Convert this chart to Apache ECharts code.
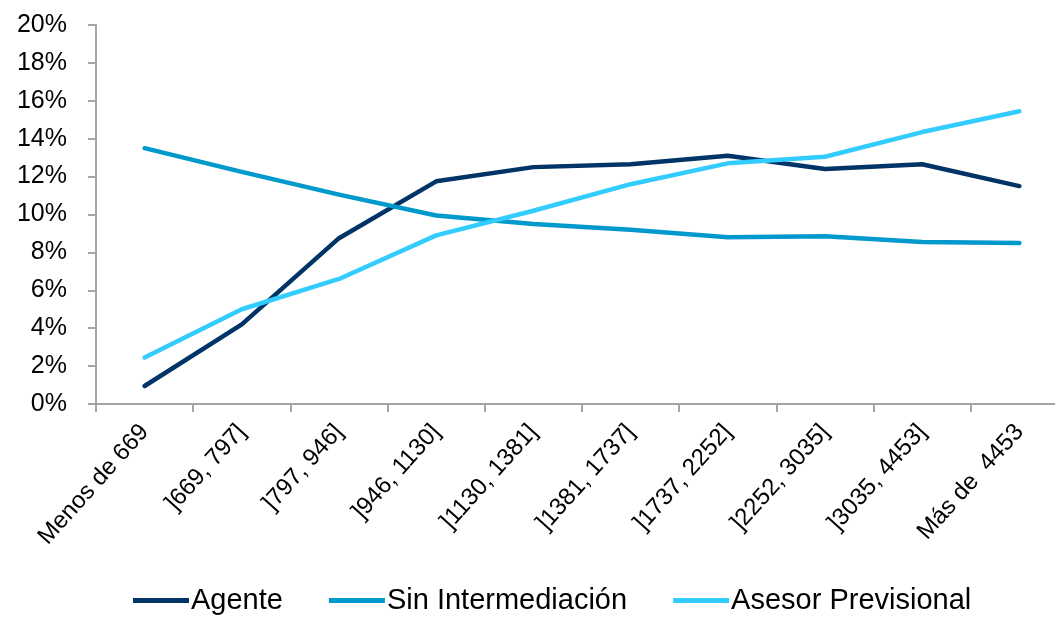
<!DOCTYPE html>
<html>
<head>
<meta charset="utf-8">
<script src="https://cdn.jsdelivr.net/npm/echarts@6/dist/echarts.min.js"></script>
<style>
  html, body { margin: 0; padding: 0; background: #fff; overflow: hidden; }
  /* the plot area runs past the right edge of the picture, as in the original */
  #chart { width: 1068px; height: 620px; }
</style>
</head>
<body>
<div id="chart"></div>
<script>
// categories (income brackets)
var categories = ['Menos de 669', ']669, 797]', ']797, 946]', ']946, 1130]', ']1130, 1381]',
                  ']1381, 1737]', ']1737, 2252]', ']2252, 3035]', ']3035, 4453]', 'Más de  4453'];

// series values, in %
var agente = [0.95, 4.2, 8.75, 11.75, 12.5, 12.65, 13.1, 12.4, 12.65, 11.5];
var sinIntermediacion = [13.5, 12.25, 11.05, 9.95, 9.5, 9.2, 8.8, 8.85, 8.55, 8.5];
var asesorPrevisional = [2.45, 5.0, 6.6, 8.9, 10.2, 11.6, 12.7, 13.05, 14.35, 15.45];

var seriesNames = ['Agente', 'Sin Intermediación', 'Asesor Previsional'];
var colors = ['#003366', '#0099CC', '#33CCFF'];

var chart = echarts.init(document.getElementById('chart'), null, { renderer: 'canvas' });
var font = 'Liberation Sans, Arial, sans-serif';

function lineSeries(name, data, color) {
  return {
    name: name,
    type: 'line',
    data: data,
    symbol: 'none',
    smooth: false,
    lineStyle: { color: color, width: 4.5, cap: 'round', join: 'round' },
    itemStyle: { color: color }
  };
}

var option = {
  animation: false,
  color: colors,
  grid: { left: 96, top: 25, right: 0, bottom: 216, containLabel: false },
  legend: {
    bottom: 0,
    left: 128,
    itemWidth: 56,
    itemHeight: 5,
    itemGap: 46,
    icon: 'rect',
    textStyle: { fontFamily: font, fontSize: 29, color: '#000', padding: [0, 0, 0, -3] },
    data: seriesNames
  },
  xAxis: {
    type: 'category',
    data: categories,
    boundaryGap: true,
    axisLine: { lineStyle: { color: '#A6A6A6', width: 2 } },
    axisTick: { show: true, alignWithLabel: false, length: 8, lineStyle: { color: '#A6A6A6', width: 2 } },
    axisLabel: { rotate: 48, margin: 24, fontFamily: font, fontSize: 24, color: '#000', interval: 0 },
    splitLine: { show: false }
  },
  yAxis: {
    type: 'value',
    min: 0,
    max: 20,
    interval: 2,
    axisLine: { show: true, lineStyle: { color: '#A6A6A6', width: 2 } },
    axisTick: { show: true, length: 8, lineStyle: { color: '#A6A6A6', width: 2 } },
    axisLabel: { formatter: '{value}%', margin: 29, fontFamily: font, fontSize: 25, color: '#000' },
    splitLine: { show: false }
  },
  series: [
    lineSeries(seriesNames[0], agente, colors[0]),
    lineSeries(seriesNames[1], sinIntermediacion, colors[1]),
    lineSeries(seriesNames[2], asesorPrevisional, colors[2])
  ]
};

chart.setOption(option);
</script>
</body>
</html>
